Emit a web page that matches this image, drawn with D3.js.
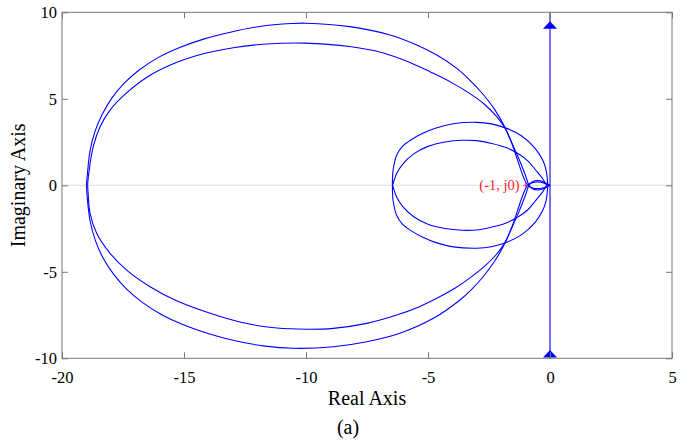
<!DOCTYPE html>
<html><head><meta charset="utf-8">
<script src="https://cdn.jsdelivr.net/npm/d3@7"></script>
<style>
html,body{margin:0;padding:0;background:#fff;}
svg{display:block;}
text{font-family:"Liberation Serif","Times New Roman",serif;}
</style></head>
<body>
<svg id="chart" width="693" height="443"></svg>
<script>
// ---- data ----
const xTicks = [-20, -15, -10, -5, 0, 5];
const yTicks = [-10, -5, 0, 5, 10];
const xLabel = "Real Axis";
const yLabel = "Imaginary Axis";
const caption = "(a)";
const critLabel = "(-1, j0)";
const critPoint = [-1, 0];

const bigOuterUpper = [[-19.0,0],[-18.95,0.8],[-18.85,2.0],[-18.65,3.1],[-18.35,4.1],[-17.95,5.05],[-17.45,5.9],[-16.85,6.65],[-16.1,7.35],[-15.2,7.95],[-14.2,8.45],[-13.1,8.85],[-11.9,9.18],[-10.6,9.35],[-10.0,9.37],[-8.2,9.17],[-6.56,8.69],[-5.46,8.11],[-4.64,7.53],[-3.82,6.76],[-3.3,6.1],[-2.8,5.35],[-2.3,4.45],[-1.9,3.5],[-1.58,2.5],[-1.25,1.45],[-1.0,0.55],[-0.86,0],[-0.72,-0.2],[-0.5,-0.27],[-0.27,-0.2],[-0.1,-0.07],[0,0]];
const bigOuterLower = [[-19.0,0],[-18.96,-0.8],[-18.85,-2.05],[-18.63,-3.2],[-18.3,-4.25],[-17.88,-5.15],[-17.35,-6.0],[-16.72,-6.75],[-15.95,-7.45],[-15.05,-8.05],[-14.05,-8.55],[-12.95,-8.97],[-11.75,-9.28],[-10.5,-9.42],[-8.88,-9.33],[-7.51,-9.04],[-6.15,-8.55],[-4.78,-7.69],[-3.69,-6.63],[-3.2,-6.0],[-2.75,-5.3],[-2.3,-4.45],[-1.9,-3.5],[-1.58,-2.5],[-1.25,-1.45],[-1.0,-0.55],[-0.86,0],[-0.72,0.2],[-0.5,0.27],[-0.27,0.2],[-0.1,0.07],[0,0]];
const bigInnerUpper = [[-18.95,0],[-18.92,0.5],[-18.72,2.23],[-18.44,3.39],[-18.03,4.35],[-17.4,5.28],[-16.55,6.22],[-15.44,7.02],[-14.21,7.6],[-12.98,7.95],[-11.61,8.17],[-10.05,8.22],[-8.2,8.02],[-6.83,7.65],[-5.74,7.1],[-4.9,6.55],[-4.05,5.95],[-3.28,5.3],[-2.7,4.7],[-2.2,4.0],[-1.84,3.3],[-1.56,2.4],[-1.33,1.46],[-1.08,0.45],[-0.92,0],[-0.75,-0.14],[-0.5,-0.19],[-0.27,-0.14],[-0.1,-0.05],[0,0]];
const bigInnerLower = [[-18.95,0],[-18.93,-0.46],[-18.85,-1.62],[-18.58,-2.77],[-18.03,-3.93],[-17.35,-4.9],[-16.39,-5.86],[-15.3,-6.68],[-13.93,-7.4],[-12.57,-7.95],[-11.2,-8.25],[-9.97,-8.32],[-8.88,-8.27],[-7.51,-7.98],[-6.28,-7.5],[-5.33,-7.0],[-4.6,-6.5],[-3.9,-5.95],[-3.28,-5.35],[-2.7,-4.7],[-2.2,-4.0],[-1.84,-3.3],[-1.56,-2.4],[-1.33,-1.46],[-1.08,-0.45],[-0.92,0],[-0.75,0.14],[-0.5,0.19],[-0.27,0.14],[-0.1,0.05],[0,0]];
const smallOuterUpper = [[-6.46,0],[-6.43,0.88],[-6.28,1.75],[-6.05,2.25],[-5.67,2.65],[-5.19,3.02],[-4.7,3.3],[-3.96,3.56],[-3.0,3.64],[-2.4,3.55],[-1.77,3.29],[-1.16,2.85],[-0.61,2.14],[-0.3,1.46],[-0.16,0.88],[-0.09,0]];
const smallOuterLower = [[-6.46,0],[-6.43,-0.88],[-6.28,-1.75],[-6.05,-2.25],[-5.67,-2.65],[-5.19,-3.02],[-4.7,-3.3],[-3.96,-3.56],[-3.0,-3.64],[-2.4,-3.55],[-1.77,-3.29],[-1.16,-2.85],[-0.61,-2.14],[-0.3,-1.46],[-0.16,-0.88],[-0.09,0]];
const smallInnerUpper = [[-6.45,0],[-6.28,0.69],[-6.05,1.2],[-5.6,1.8],[-5.0,2.25],[-4.3,2.5],[-3.6,2.6],[-3.0,2.58],[-2.4,2.42],[-1.8,2.18],[-1.3,1.82],[-0.9,1.4],[-0.6,0.9],[-0.3,0.38],[-0.14,0]];
const smallInnerLower = [[-6.45,0],[-6.28,-0.69],[-6.05,-1.2],[-5.6,-1.8],[-5.0,-2.25],[-4.3,-2.5],[-3.6,-2.6],[-3.0,-2.58],[-2.4,-2.42],[-1.8,-2.18],[-1.3,-1.82],[-0.9,-1.4],[-0.6,-0.9],[-0.3,-0.38],[-0.14,0]];
const vertLine = [[0,-10],[0,10]];
const arrowPoints = [[0,9.25],[0,-9.75]];

const curves = [bigOuterUpper,bigOuterLower,bigInnerUpper,bigInnerLower,smallOuterUpper,smallOuterLower,smallInnerUpper,smallInnerLower];

// ---- layout ----
const svg = d3.select("#chart");
const x = d3.scaleLinear().domain([-20,5]).range([62,672]);
const y = d3.scaleLinear().domain([-10,10]).range([358.3,12.3]);
const axisColor = "#777";
const blue = "#0000ff";

svg.append("line").attr("x1",x(-20)).attr("x2",x(5)).attr("y1",y(0)).attr("y2",y(0))
  .attr("stroke","#dcdcdc").attr("stroke-width",1);

svg.append("defs").append("clipPath").attr("id","clip")
  .append("rect").attr("x",x(-20)).attr("y",y(10)).attr("width",x(5)-x(-20)).attr("height",y(-10)-y(10));

const plot = svg.append("g").attr("clip-path","url(#clip)");
const line = d3.line().x(d=>x(d[0])).y(d=>y(d[1])).curve(d3.curveCatmullRom.alpha(0.5));
curves.forEach(c=>{
  plot.append("path").attr("d",line(c)).attr("fill","none").attr("stroke",blue).attr("stroke-width",1.1);
});
plot.append("path").attr("d",d3.line().x(d=>x(d[0])).y(d=>y(d[1]))(vertLine))
  .attr("fill","none").attr("stroke",blue).attr("stroke-width",1.1);
arrowPoints.forEach(p=>{
  const cx=x(p[0]), cy=y(p[1]);
  plot.append("path").attr("d",`M${cx},${cy-4}L${cx+7},${cy+3.5}L${cx-7},${cy+3.5}Z`).attr("fill",blue);
});

const px=x(critPoint[0]), py=y(critPoint[1]);
svg.append("path").attr("d",`M${px-2.5},${py}H${px+2.5}M${px},${py-2.5}V${py+2.5}`).attr("stroke","#ff3030").attr("stroke-width",0.8);
svg.append("text").attr("x",px-6).attr("y",py).attr("dy","0.33em").attr("text-anchor","end")
  .attr("fill","#ff2020").attr("font-size","14.5px").text(critLabel);

function styleAxis(g){
  g.select(".domain").remove();
  g.selectAll(".tick line").attr("stroke",axisColor);
  g.selectAll(".tick text").attr("fill","#000").attr("font-size","16.5px").attr("font-family","Liberation Serif");
}
svg.append("g").attr("transform",`translate(0,${y(-10)})`)
  .call(d3.axisBottom(x).tickValues(xTicks).tickSizeInner(-6).tickSizeOuter(0).tickPadding(13).tickFormat(d=>String(d))).call(styleAxis);
svg.append("g").attr("transform",`translate(0,${y(10)})`)
  .call(d3.axisTop(x).tickValues(xTicks).tickSizeInner(-6).tickSizeOuter(0).tickFormat("")).call(styleAxis);
svg.append("g").attr("transform",`translate(${x(-20)},0)`)
  .call(d3.axisLeft(y).tickValues(yTicks).tickSizeInner(-6).tickSizeOuter(0).tickPadding(5).tickFormat(d=>String(d))).call(styleAxis);
svg.append("g").attr("transform",`translate(${x(5)},0)`)
  .call(d3.axisRight(y).tickValues(yTicks).tickSizeInner(-6).tickSizeOuter(0).tickFormat("")).call(styleAxis);

svg.append("rect").attr("x",x(-20)).attr("y",y(10)).attr("width",x(5)-x(-20)).attr("height",y(-10)-y(10))
  .attr("fill","none").attr("stroke",axisColor).attr("stroke-width",1);

svg.append("text").attr("x",(x(-20)+x(5))/2).attr("y",405).attr("text-anchor","middle")
  .attr("font-size","20px").attr("fill","#000").text(xLabel);
svg.append("text").attr("transform",`translate(25,${y(0)}) rotate(-90)`).attr("text-anchor","middle")
  .attr("font-size","20px").attr("fill","#000").text(yLabel);
svg.append("text").attr("x",348).attr("y",434).attr("text-anchor","middle")
  .attr("font-size","20px").attr("fill","#000").text(caption);
</script>
</body></html>
